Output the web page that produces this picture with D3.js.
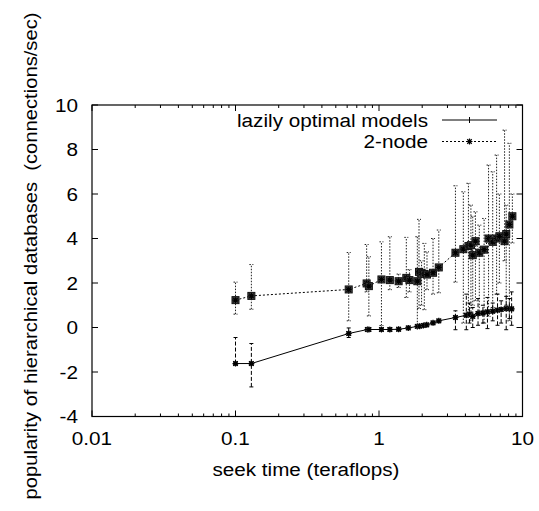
<!DOCTYPE html>
<html><head><meta charset="utf-8">
<script src="https://cdn.jsdelivr.net/npm/d3@7"></script>
<style>body{margin:0;background:#fff}svg{display:block}text{font-family:"Liberation Sans",Arial,sans-serif;fill:#000}</style>
</head><body><svg id="c" width="539" height="511"></svg>
<script>
const xTicks = [0.01, 0.1, 1, 10];
const xTickLabels = ["0.01", "0.1", "1", "10"];
const yTicks = [-4, -2, 0, 2, 4, 6, 8, 10];
const seriesNames = ["lazily optimal models", "2-node"];
// series 1: x, y, low, high
const s1x = [0.1,0.129,0.615,0.83,0.85,1.04,1.19,1.37,1.6,1.85,1.92,2.04,2.15,2.38,2.61,3.41,4.06,4.27,4.5,4.9,5.3,5.7,6.2,6.7,7.1,7.7,8.1,8.4];
const s1y = [-1.62,-1.62,-0.27,-0.09,-0.09,-0.09,-0.09,-0.08,-0.02,0.05,0.06,0.09,0.12,0.21,0.3,0.45,0.55,0.6,0.5,0.63,0.65,0.7,0.73,0.78,0.81,0.85,0.85,0.84];
const s1lo = [-1.62,-2.67,-0.45,-0.12,-0.12,-0.12,-0.12,-0.11,-0.05,0.0,0.0,0.05,0.08,0.17,0.26,-0.1,-0.1,0.2,0.0,0.1,0.2,-0.05,0.3,0.1,0.2,-0.1,0.4,0.1];
const s1hi = [-0.45,-0.72,-0.02,-0.06,-0.06,-0.06,-0.06,-0.05,0.01,0.1,0.12,0.13,0.16,0.25,0.34,0.75,1.5,1.1,0.9,1.3,1.0,1.35,1.1,1.5,1.2,1.4,1.3,1.6];
// series 2
const s2x = [0.1,0.129,0.615,0.82,0.85,1.04,1.19,1.37,1.55,1.63,1.85,1.9,1.98,2.07,2.16,2.38,2.61,3.41,3.87,4.2,4.37,4.5,4.7,5.0,5.4,5.8,6.2,6.6,6.9,7.5,7.7,8.1,8.5];
const s2y = [1.23,1.42,1.71,1.98,1.86,2.16,2.13,2.08,2.23,2.13,2.08,2.5,2.46,2.41,2.38,2.46,2.7,3.36,3.52,3.66,3.7,3.25,3.88,3.36,3.5,4.0,3.85,4.0,4.1,3.88,4.2,4.63,5.0];
const s2lo = [0.6,0.82,0.3,1.6,0.52,0.09,1.7,1.8,1.35,1.6,0.1,0.85,1.0,0.8,1.7,1.5,1.56,2.04,0.2,0.5,0.3,1.0,1.2,0.6,0.2,0.5,0.9,1.5,2.0,3.0,1.0,0.3,3.8];
const s2hi = [2.04,2.83,3.37,3.73,3.18,3.85,4.08,2.4,4.05,2.6,4.08,4.86,3.0,3.78,3.4,4.0,4.38,6.37,6.1,6.48,5.5,5.0,5.2,4.6,4.9,7.3,7.0,7.75,6.0,8.87,5.5,8.28,6.0];

const svg = d3.select("#c");
const L = 92, R = 522.5, T = 105, B = 416.5;
const x = d3.scaleLog().domain([0.01, 10]).range([L, R]);
const y = d3.scaleLinear().domain([-4, 10]).range([B, T]);
const FS = 18, STRETCH = 1.15;

const g = svg.append("g");
function txt(px, py, s, anchor, len) {
  const t = g.append("text").attr("x", px).attr("y", py).attr("text-anchor", anchor).attr("font-size", FS).text(s);
  const w = len || t.node().getComputedTextLength() * STRETCH;
  t.attr("textLength", w).attr("lengthAdjust", "spacingAndGlyphs");
  return t;
}
// minor x ticks
const minor = [];
[0.01, 0.1, 1].forEach(d => { for (let k = 2; k <= 9; k++) minor.push(d * k); });
minor.forEach(v => {
  g.append("line").attr("x1", x(v)).attr("x2", x(v)).attr("y1", B).attr("y2", B - 3).attr("stroke", "#000");
  g.append("line").attr("x1", x(v)).attr("x2", x(v)).attr("y1", T).attr("y2", T + 3).attr("stroke", "#000");
});
xTicks.forEach((v, i) => {
  g.append("line").attr("x1", x(v)).attr("x2", x(v)).attr("y1", B).attr("y2", B - 6).attr("stroke", "#000");
  g.append("line").attr("x1", x(v)).attr("x2", x(v)).attr("y1", T).attr("y2", T + 6).attr("stroke", "#000");
  txt(x(v), B + 28, xTickLabels[i], "middle");
});
yTicks.forEach(v => {
  g.append("line").attr("x1", L).attr("x2", L + 6).attr("y1", y(v)).attr("y2", y(v)).attr("stroke", "#000");
  g.append("line").attr("x1", R).attr("x2", R - 6).attr("y1", y(v)).attr("y2", y(v)).attr("stroke", "#000");
  txt(78, y(v) + 6.5, String(v), "end");
});
g.append("rect").attr("x", L).attr("y", T).attr("width", R - L).attr("height", B - T).attr("fill", "none").attr("stroke", "#000").attr("stroke-width", 1.2);

// axis titles
txt(306, 476, "seek time (teraflops)", "middle", 187);
txt(0, 0, "popularity of hierarchical databases  (connections/sec)", "middle", 487)
  .attr("transform", "translate(37,256) rotate(-90)").style("white-space", "pre");

function errbars(xs, los, his, dash, col) {
  xs.forEach((xv, i) => {
    const px = x(xv);
    g.append("line").attr("x1", px).attr("x2", px).attr("y1", y(los[i])).attr("y2", y(his[i])).attr("stroke", col).attr("stroke-dasharray", dash);
    [los[i], his[i]].forEach(v => g.append("line").attr("x1", px - 2).attr("x2", px + 2).attr("y1", y(v)).attr("y2", y(v)).attr("stroke", col).attr("stroke-dasharray", dash));
  });
}
errbars(s2x, s2lo, s2hi, "1.5,1.5", "#222");
errbars(s1x, s1lo, s1hi, "4,2", "#000");

const line = d3.line().x(d => x(d[0])).y(d => y(d[1]));
g.append("path").attr("d", line(s1x.map((v, i) => [v, s1y[i]]))).attr("fill", "none").attr("stroke", "#000").attr("stroke-width", 1);
g.append("path").attr("d", line(s2x.map((v, i) => [v, s2y[i]]))).attr("fill", "none").attr("stroke", "#000").attr("stroke-dasharray", "2,2");

function star(px, py, r) {
  const p = `M${px - r},${py}L${px + r},${py}M${px},${py - r}L${px},${py + r}M${px - r * 0.75},${py - r * 0.75}L${px + r * 0.75},${py + r * 0.75}M${px - r * 0.75},${py + r * 0.75}L${px + r * 0.75},${py - r * 0.75}`;
  g.append("path").attr("d", p).attr("stroke", "#000").attr("stroke-width", 1.2).attr("fill", "none");
}
s1x.forEach((v, i) => {
  g.append("rect").attr("x", x(v) - 2.5).attr("y", y(s1y[i]) - 2.5).attr("width", 5).attr("height", 5).attr("fill", "#555");
  star(x(v), y(s1y[i]), 3);
});
s2x.forEach((v, i) => {
  g.append("rect").attr("x", x(v) - 3.5).attr("y", y(s2y[i]) - 3.5).attr("width", 7).attr("height", 7).attr("fill", "#444").attr("stroke", "#111");
  star(x(v), y(s2y[i]), 3);
});

// legend
const lg = [{ y: 120, dash: null, mark: "plus" }, { y: 141.5, dash: "2,2", mark: "star" }];
lg.forEach((d, i) => {
  txt(428, d.y + 6.5, seriesNames[i], "end");
  const ln = g.append("line").attr("x1", 442).attr("x2", 497).attr("y1", d.y).attr("y2", d.y).attr("stroke", "#000");
  if (d.dash) ln.attr("stroke-dasharray", d.dash);
  if (d.mark === "plus") {
    g.append("path").attr("d", `M469.5,${d.y - 3}L469.5,${d.y + 3}`).attr("stroke", "#000");
  } else {
    star(469.5, d.y, 3);
  }
});
</script></body></html>
